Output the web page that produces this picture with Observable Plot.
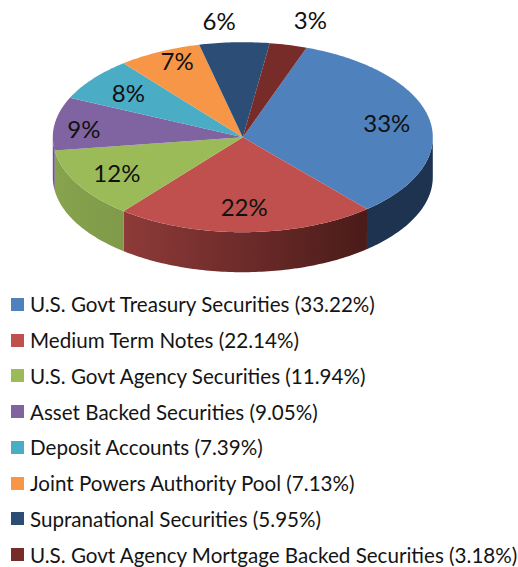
<!DOCTYPE html>
<html>
<head>
<meta charset="utf-8">
<script src="https://cdn.jsdelivr.net/npm/d3@7"></script>
<script src="https://cdn.jsdelivr.net/npm/@observablehq/plot@0.6"></script>
<style>
html,body{margin:0;padding:0;background:#fff;}
#chart svg{display:block;}
#legend{position:absolute;left:11px;top:286.5px;font-family:Lato,"Open Sans",sans-serif;font-size:20.6px;color:#141414;}
.row{display:flex;align-items:center;height:35.75px;white-space:nowrap;}
.sw{width:13px;height:13px;margin-right:6px;flex:none;}
</style>
</head>
<body>
<div id="chart"></div>
<div id="legend"></div>
<script>
const categories = ["U.S. Govt Treasury Securities","Medium Term Notes","U.S. Govt Agency Securities","Asset Backed Securities","Deposit Accounts","Joint Powers Authority Pool","Supranational Securities","U.S. Govt Agency Mortgage Backed Securities"];
const values = [33.22,22.14,11.94,9.05,7.39,7.13,5.95,3.18];
const pieLabels = ["33%","22%","12%","9%","8%","7%","6%","3%"];
const colors = ["#4f81bd","#c0504d","#9bbb59","#8064a2","#4bacc6","#f79646","#2c4d75","#772c2a"];
const sideLeft = ["#1d3350","#8e3b39","#87a34e","#6a5388","#3f90a6","#cf7d3a","#243f60","#632422"];
const sideRight = ["#1d3350","#4a1b19","#7f9a49","#6a5388","#3f90a6","#cf7d3a","#243f60","#632422"];
const labelReach = [0.77,0.75,0.767,0.84,0.752,0.86,1.217,1.27];
const labelTurn = [0.4,0.4,-0.6,-3.1,-1,2.4,-3.3,2.4];
const startAngle = 19.6, depth = 40/95;

const total = d3.sum(values);
let acc = startAngle;
const slices = values.map((v,i)=>{const a0=acc; acc+=v/total*360; return {i,a0,a1:acc,mid:(a0+acc)/2};});
const rad = d=>d*Math.PI/180;
const sx = a=>Math.sin(rad(a)), cy = a=>Math.cos(rad(a));

const topRows = [], sideRows = [];
for (const s of slices) {
  topRows.push({x:0,y:0,z:s.i,paint:colors[s.i]});
  for (let a=s.a0;;a=Math.min(a+1,s.a1)) { topRows.push({x:sx(a),y:cy(a),z:s.i,paint:colors[s.i]}); if(a>=s.a1)break; }
  const lo=Math.max(s.a0,90), hi=Math.min(s.a1,270);
  if (lo<hi) {
    const paint=`url(#side${s.i})`, arc=[];
    for (let a=lo;;a=Math.min(a+1,hi)) { arc.push(a); if(a>=hi)break; }
    for (const a of arc) sideRows.push({x:sx(a),y:cy(a),z:s.i,paint});
    for (const a of arc.slice().reverse()) sideRows.push({x:sx(a),y:cy(a)-depth,z:s.i,paint});
  }
}
const labelRows = slices.map(s=>{const a=s.mid+labelTurn[s.i],r=labelReach[s.i];return {x:r*sx(a),y:r*cy(a),text:pieLabels[s.i]};});

const defs = () => {
  const d = d3.create("svg:defs");
  slices.forEach(s=>{
    const g=d.append("linearGradient").attr("id",`side${s.i}`);
    g.append("stop").attr("offset","0%").attr("stop-color",sideLeft[s.i]);
    g.append("stop").attr("offset","100%").attr("stop-color",sideRight[s.i]);
  });
  return d.node();
};

const plot = Plot.plot({
  width:518,height:287,margin:0,
  x:{domain:[-1,1],range:[52.3,432.3]},
  y:{domain:[-1,1],range:[231.7,41.7]},
  color:{type:"identity"},
  axis:null,
  marks:[
    defs,
    Plot.line(sideRows,{x:"x",y:"y",z:"z",fill:"paint",stroke:"none",curve:"linear"}),
    Plot.line(topRows,{x:"x",y:"y",z:"z",fill:"paint",stroke:"none",curve:"linear"}),
    Plot.text(labelRows,{x:"x",y:"y",text:"text",fontFamily:"Lato,'Open Sans',sans-serif",fontSize:24,fill:"#111"})
  ]
});
document.getElementById("chart").append(plot);

const legend=d3.select("#legend");
categories.forEach((c,i)=>{
  const r=legend.append("div").attr("class","row");
  r.append("div").attr("class","sw").style("background",colors[i]);
  r.append("span").text(`${c} (${values[i].toFixed(2)}%)`);
});
</script>
</body>
</html>
